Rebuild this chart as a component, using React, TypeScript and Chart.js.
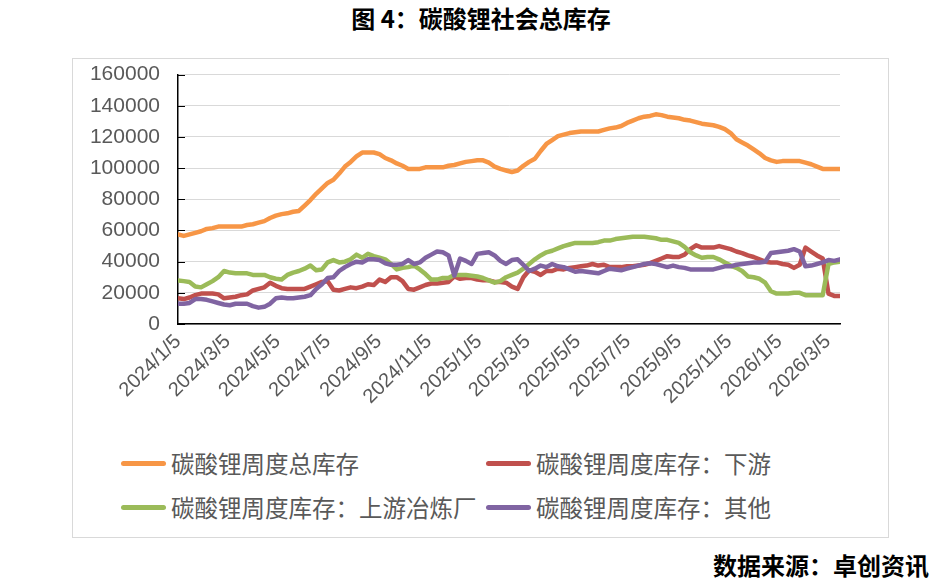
import React, { useEffect, useRef } from 'react';
import { Chart, registerables } from 'chart.js';
Chart.register(...registerables);

const START_DATE = '2024/1/5';
const TICK_LABELS = ['2024/1/5', '2024/3/5', '2024/5/5', '2024/7/5', '2024/9/5', '2024/11/5', '2025/1/5', '2025/3/5', '2025/5/5', '2025/7/5', '2025/9/5', '2025/11/5', '2026/1/5', '2026/3/5'];
const Y_MAX = 160000;
const Y_STEP = 20000;

const SERIES_NAMES = ['碳酸锂周度总库存', '碳酸锂周度库存：下游', '碳酸锂周度库存：上游冶炼厂', '碳酸锂周度库存：其他'];

const TOTAL = [
  57500, 56500, 57500, 58500, 59500, 61000, 61500, 62500, 62500, 62500,
  62500, 62500, 63500, 64000, 65000, 66000, 68000, 69500, 70500, 71000,
  72000, 72500, 76000, 79500, 83500, 87000, 90500, 92500, 96500, 101000,
  104000, 107500, 110000, 110000, 110000, 109000, 106500, 105000, 103000, 101500,
  99500, 99500, 99500, 100500, 100500, 100500, 100500, 101500, 102000, 103000,
  104000, 104500, 105000, 105000, 103500, 101000, 99500, 98500, 97500, 98500,
  101500, 104000, 106000, 111000, 115500, 118000, 120500, 121500, 122500, 123000,
  123500, 123500, 123500, 123500, 124500, 125500, 126000, 127000, 129000, 130500,
  132000, 133000, 133500, 134500, 134000, 133000, 132500, 132000, 131000, 130500,
  129500, 128500, 128000, 127500, 126500, 125000, 122500, 118500, 116500, 114500,
  112000, 109500, 106500, 105000, 104000, 104500, 104500, 104500, 104500, 103500,
  102500, 101000, 99500, 99500, 99500, 99500,
];

const DOWNSTREAM = [
  16500, 16000, 17000, 18500, 19500, 19500, 19500, 19000, 16500, 17000,
  17500, 18500, 19000, 21500, 22500, 23500, 26500, 24500, 23000, 22500,
  22500, 22500, 22500, 24000, 25500, 27000, 27500, 22000, 21500, 22500,
  23500, 23000, 24000, 25500, 25000, 28500, 27000, 30000, 30000, 27500,
  22500, 22000, 23500, 25000, 26000, 26000, 26500, 27000, 30500, 29000,
  29500, 29500, 28500, 28000, 28000, 27000, 27000, 26500, 24000, 22500,
  30000, 34500, 33500, 31500, 34000, 34000, 35500, 35000, 36000, 36500,
  37000, 37500, 38500, 37500, 38000, 36500, 36500, 36500, 37000, 37000,
  37500, 38000, 39000, 40500, 42000, 43500, 43000, 43000, 44500, 48000,
  50500, 49000, 49000, 49000, 50000, 49000, 48000, 46500, 45500, 44000,
  43000, 41500, 40000, 39500, 39500, 38500, 38000, 36000, 38000, 49000,
  46500, 44000, 42000, 19500, 18000, 18000,
];

const UPSTREAM = [
  28000, 27500, 27000, 24000, 23500, 25500, 27500, 30000, 34000, 33000,
  32500, 32500, 32500, 31500, 31500, 31500, 30000, 29000, 28500, 31500,
  33000, 34000, 35500, 37500, 34500, 35000, 39500, 41000, 39500, 40000,
  41500, 44500, 42500, 45000, 43500, 42500, 41500, 38500, 35000, 36000,
  36500, 37500, 35000, 32000, 28500, 28500, 29500, 29500, 31500, 31500,
  31500, 31000, 30500, 29500, 28000, 26500, 27500, 30000, 31500, 33000,
  35500, 38500, 41500, 44000, 46000, 47000, 48500, 50000, 51000, 52000,
  52000, 52000, 52000, 52500, 53500, 53500, 54500, 55000, 55500, 56000,
  56000, 56000, 55500, 55000, 54000, 54000, 53000, 52000, 49500, 46000,
  44000, 42500, 43000, 43000, 41500, 39500, 37500, 36000, 34000, 30500,
  30000, 29000, 26500, 21000, 19500, 19500, 19500, 20000, 20000, 18500,
  18500, 18500, 18500, 38500, 39500, 40000,
];

const OTHER = [
  13000, 13000, 13500, 16000, 16000, 15500, 14500, 13500, 12500, 12000,
  13000, 13000, 13000, 11500, 10500, 11000, 13000, 16500, 17000, 16500,
  16500, 17000, 17500, 18500, 22500, 25500, 29500, 30000, 34000, 36500,
  38500, 40000, 39500, 41500, 41500, 41000, 39000, 38000, 38000, 38500,
  41000, 38500, 39500, 42500, 44500, 46500, 46000, 44000, 31000, 42000,
  40500, 38500, 45000, 45500, 46000, 44000, 40500, 38500, 41000, 41500,
  38000, 34000, 35500, 37500, 36500, 38500, 37000, 36500, 35000, 33500,
  34000, 33500, 33000, 32500, 34000, 35500, 35000, 34500, 35500, 36500,
  37500, 38500, 39000, 38500, 37500, 36500, 37500, 36500, 36000, 35000,
  35000, 35000, 35000, 35000, 36000, 37000, 37000, 38000, 38500, 39000,
  39500, 39500, 40000, 45500, 46000, 46500, 47000, 48000, 46500, 37000,
  37500, 38500, 39500, 41000, 40500, 41500,
];

const COLORS = ['#F79646', '#C0504D', '#9BBB59', '#8064A2'];

const dayOffset = (s: string) => {
  const [y, m, d] = s.split('/').map(Number);
  const [y0, m0, d0] = START_DATE.split('/').map(Number);
  return Math.round((Date.UTC(y, m - 1, d) - Date.UTC(y0, m0 - 1, d0)) / 86400000);
};
const TICK_DAYS = TICK_LABELS.map(dayOffset);
const toPoints = (arr: number[]) => arr.map((v, i) => ({ x: i * 7, y: v }));
const LAST_DAY = (TOTAL.length - 1) * 7;

const yTickMarks = {
  id: 'yTickMarks',
  beforeDatasetsDraw(chart: any) {
    const { ctx, chartArea } = chart;
    const y = chart.scales.y;
    ctx.save();
    ctx.strokeStyle = '#000';
    ctx.lineWidth = 1;
    y.ticks.forEach((t: any) => {
      const py = Math.round(y.getPixelForValue(t.value)) + 0.5;
      ctx.beginPath();
      ctx.moveTo(chartArea.left, py);
      ctx.lineTo(chartArea.left + 7, py);
      ctx.stroke();
    });
    ctx.restore();
  },
};

const CJK = '"Noto Sans CJK SC", "Noto Sans", sans-serif';

export default function App() {
  const ref = useRef<HTMLCanvasElement>(null);
  useEffect(() => {
    if (!ref.current) return;
    const all = [TOTAL, DOWNSTREAM, UPSTREAM, OTHER];
    const chart = new Chart(ref.current, {
      type: 'line',
      data: {
        datasets: all.map((arr, k) => ({
          label: SERIES_NAMES[k],
          data: toPoints(arr),
          borderColor: COLORS[k],
          backgroundColor: COLORS[k],
          borderWidth: 4.5,
          pointRadius: 0,
          tension: 0,
          borderJoinStyle: 'round' as const,
          borderCapStyle: 'round' as const,
          order: 3 - k,
        })),
      },
      options: {
        animation: false,
        responsive: false,
        devicePixelRatio: 1,
        layout: { padding: { top: 0, right: 47, left: 0, bottom: 0 } },
        plugins: { legend: { display: false }, tooltip: { enabled: false } },
        scales: {
          x: {
            type: 'linear',
            min: 0,
            max: LAST_DAY,
            afterBuildTicks: (scale: any) => {
              scale.ticks = TICK_DAYS.map((v) => ({ value: v }));
            },
            afterFit: (scale: any) => {
              scale.height = 115;
            },
            grid: { display: false, drawTicks: false },
            border: { color: '#000', width: 1.5 },
            ticks: {
              autoSkip: false,
              maxRotation: 45,
              minRotation: 45,
              padding: 6,
              color: '#595959',
              font: { family: '"Liberation Sans", Arial, sans-serif', size: 20 },
              callback: (_v: any, i: number) => TICK_LABELS[i],
            },
          },
          y: {
            min: 0,
            max: Y_MAX,
            afterFit: (scale: any) => {
              scale.width = 105;
            },
            grid: { color: '#d9d9d9', lineWidth: 1, drawTicks: false },
            border: { color: '#000', width: 1.5 },
            ticks: {
              stepSize: Y_STEP,
              padding: 18,
              color: '#595959',
              font: { family: '"Liberation Sans", Arial, sans-serif', size: 21 },
              callback: (v: any) => String(v),
            },
          },
        },
      },
      plugins: [yTickMarks],
    } as any);
    return () => chart.destroy();
  }, []);

  const legendItems = [
    { k: 0, left: 121, top: 463 },
    { k: 1, left: 486, top: 463 },
    { k: 2, left: 121, top: 507 },
    { k: 3, left: 486, top: 507 },
  ];

  return (
    <div style={{ position: 'absolute', left: 0, top: 0, width: 951, height: 586, background: '#fff', overflow: 'hidden' }}>
      <div style={{ position: 'absolute', left: 0, width: 962, top: 6, textAlign: 'center', fontFamily: CJK, fontWeight: 700, fontSize: 24, lineHeight: '24px', color: '#000', whiteSpace: 'nowrap' }}>
        图 4：碳酸锂社会总库存
      </div>
      <div style={{ position: 'absolute', left: 72, top: 58, width: 815, height: 478, border: '1px solid #d9d9d9' }} />
      <canvas ref={ref} width={814} height={395} style={{ position: 'absolute', left: 73, top: 44, width: 814, height: 395 }} />
      {legendItems.map(({ k, left, top }) => (
        <div key={k}>
          <div style={{ position: 'absolute', left, top: top - 2.5, width: 45, height: 5, borderRadius: 2.5, background: COLORS[k] }} />
          <div style={{ position: 'absolute', left: left + 50, top: top - 12, fontFamily: CJK, fontSize: 23.5, lineHeight: '24px', color: '#595959', whiteSpace: 'nowrap' }}>
            {SERIES_NAMES[k]}
          </div>
        </div>
      ))}
      <div style={{ position: 'absolute', right: 22, top: 553, fontFamily: CJK, fontWeight: 700, fontSize: 24, lineHeight: '24px', color: '#000', whiteSpace: 'nowrap' }}>
        数据来源：卓创资讯
      </div>
    </div>
  );
}
